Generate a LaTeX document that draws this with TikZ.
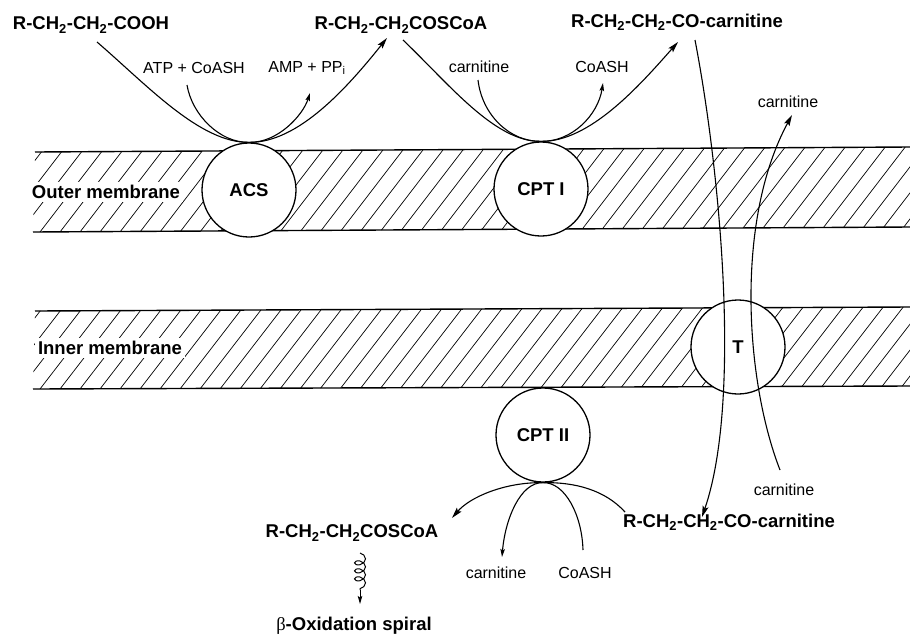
\documentclass[tikz,border=0pt]{standalone}
\usepackage{fontspec}
\setmainfont{Liberation Sans}
\newfontfamily\greekserif{Liberation Serif}
\usetikzlibrary{arrows.meta,decorations.pathmorphing}
\newcommand{\sbs}[1]{\textsubscript{#1}}
\begin{document}
\begin{tikzpicture}[x=1pt,y=-1pt,
  big/.style={font=\bfseries\fontsize{18.5}{20}\selectfont, inner sep=1pt},
  small/.style={font=\fontsize{16}{18}\selectfont, inner sep=1pt},
  memlabel/.style={big, fill=white, inner sep=3pt},
  enz/.style={circle, draw, line width=1.3pt, fill=white, minimum size=94pt, inner sep=0pt, font=\bfseries\fontsize{18.5}{20}\selectfont},
  hatch/.style={line width=0.7pt},
  memline/.style={line width=1.4pt},
  curve/.style={line width=1.1pt},
  bigarrow/.style={curve, -{Stealth[length=11pt,width=6pt,inset=2pt]}},
  smallarrow/.style={curve, -{Stealth[length=8pt,width=4.5pt,inset=1.5pt]}}
]
\useasboundingbox (0,0) rectangle (910,635);

% membranes: hatching
\begin{scope}
  \clip (35,152) -- (910,147) -- (910,227) -- (33,232) -- cycle;
  \foreach \x in {-80,-60,...,940} \draw[hatch] (\x,232) -- ++(66,-86);
\end{scope}
\begin{scope}
  \clip (35,311) -- (910,307) -- (910,386) -- (33,389) -- cycle;
  \foreach \x in {-80,-60,...,940} \draw[hatch] (\x,389) -- ++(64,-83);
\end{scope}
\draw[memline] (35,152) -- (910,147);
\draw[memline] (33,232) -- (910,227);
\draw[memline] (35,311) -- (910,307);
\draw[memline] (33,389) -- (910,386);

\node[memlabel] (outer) at (106,192) {Outer membrane};
\node[memlabel] (inner) at (110,348) {Inner membrane};

% enzymes
\node[enz] (acs) at (249,190) {ACS};
\node[enz] (cpt1) at (541,189) {CPT I};
\node[enz] (t) at (738,347) {T};
\node[enz] (cpt2) at (543,435) {CPT II};

% texts
\node[big] (cooh) at (91,25) {R-CH\sbs{2}-CH\sbs{2}-COOH};
\node[big] (coscoa) at (401,25) {R-CH\sbs{2}-CH\sbs{2}COSCoA};
\node[big] (acylcar) at (677,22) {R-CH\sbs{2}-CH\sbs{2}-CO-carnitine};
\node[small] (atp) at (194,68) {ATP + CoASH};
\node[small] (amp) at (307,68) {AMP + PP\sbs{i}};
\node[small] (carn1) at (479,67) {carnitine};
\node[small] (coash1) at (602,67) {CoASH};
\node[small] (carn2) at (788,102) {carnitine};
\node[big] (coscoa2) at (352,533) {R-CH\sbs{2}-CH\sbs{2}COSCoA};
\node[big] (beta) at (354,626) {{\greekserif\mdseries β}-Oxidation spiral};
\node[small] (carn3) at (496,573) {carnitine};
\node[small] (coash3) at (585,573) {CoASH};
\node[big] (acylcar2) at (729,522) {R-CH\sbs{2}-CH\sbs{2}-CO-carnitine};
\node[small] (carn4) at (784,490) {carnitine};

% connector end points
\coordinate (a1) at (97,42);
\coordinate (a2) at (387,38);
\coordinate (a3) at (187,85);
\coordinate (a4) at (310,93);
\coordinate (b1) at (403,40);
\coordinate (b2) at (678,42);
\coordinate (b3) at (478,80);
\coordinate (b4) at (603,83);
\coordinate (t1) at (695,40);
\coordinate (t2) at (702,517);
\coordinate (t3) at (780,470);
\coordinate (t4) at (792,115);
\coordinate (d1) at (452,518);
\coordinate (d2) at (625,512);
\coordinate (d3) at (502,557);
\coordinate (d4) at (583,550);
\coordinate (s1) at (360,553);
\coordinate (s2) at (360,590);
\coordinate (s3) at (360,604);

% ACS
\draw[curve] (a1) .. controls (147,85) and (200,143) .. (acs.north);
\draw[bigarrow] (acs.north) .. controls (298,143) and (347,88) .. (a2);
\draw[curve] (a3) .. controls (192,115) and (220,143) .. (acs.north);
\draw[smallarrow] (acs.north) .. controls (278,143) and (303,115) .. (a4);

% CPT I
\draw[curve] (b1) .. controls (450,85) and (495,142) .. (cpt1.north);
\draw[bigarrow] (cpt1.north) .. controls (590,142) and (640,85) .. (b2);
\draw[curve] (b3) .. controls (482,115) and (510,142) .. (cpt1.north);
\draw[smallarrow] (cpt1.north) .. controls (572,142) and (598,115) .. (b4);

% transport through T
\draw[bigarrow] (t1) .. controls (720,170) and (742,400) .. (t2);
\draw[bigarrow] (t3) .. controls (745,380) and (735,220) .. (t4);

% CPT II
\draw[bigarrow] (cpt2.south) .. controls (505,482) and (470,497) .. (d1);
\draw[curve] (d2) .. controls (605,490) and (575,482) .. (cpt2.south);
\draw[smallarrow] (cpt2.south) .. controls (520,482) and (505,520) .. (d3);
\draw[curve] (d4) .. controls (582,515) and (565,482) .. (cpt2.south);

% beta oxidation
\draw[curve, line width=1pt, decorate, decoration={coil, aspect=0.7, amplitude=5.5pt, segment length=8pt}] (s1) -- (s2);
\draw[smallarrow, line width=1pt] (s2) -- (s3);
\end{tikzpicture}
\end{document}
